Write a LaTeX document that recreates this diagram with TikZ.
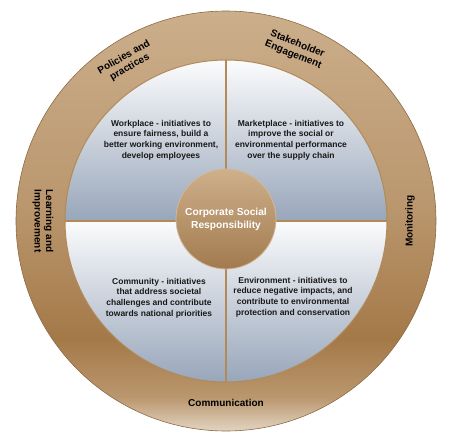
\documentclass[tikz,border=0pt]{standalone}
\usepackage{fontspec}
\setmainfont{Liberation Sans}
\usetikzlibrary{positioning}
\definecolor{ringtop}{RGB}{203,174,139}
\definecolor{ringmid}{RGB}{186,151,110}
\definecolor{ringdark}{RGB}{164,121,72}
\definecolor{ringbot}{RGB}{226,212,194}
\definecolor{quadgrey}{RGB}{152,166,186}
\definecolor{goldline}{RGB}{178,138,88}
\definecolor{rimbrown}{RGB}{140,106,68}
\definecolor{coretop}{RGB}{206,176,139}
\definecolor{corebot}{RGB}{162,122,78}
\pgfdeclareverticalshading{ringshade}{100bp}{color(0bp)=(ringbot); color(25bp)=(ringbot); color(29bp)=(ringmid); color(36bp)=(ringdark); color(52bp)=(ringmid); color(75bp)=(ringtop); color(100bp)=(ringtop)}

\begin{document}
\begin{tikzpicture}[x=1pt,y=1pt,
    quad/.style={top color=white!96!quadgrey,bottom color=quadgrey,draw=goldline,line width=1pt},
    quadtext/.style={align=center,font=\fontsize{8.5}{10.7}\selectfont\bfseries,text=black!90},
    ringtext/.style={align=center,font=\fontsize{10}{11.5}\selectfont\bfseries,text=black},
    coretext/.style={align=center,font=\fontsize{10.2}{13}\selectfont\bfseries,text=white}]
    \useasboundingbox (-226,-224) rectangle (224,221);

    % Outer ring
    \path[shading=ringshade,even odd rule] (0,0) circle (210) (0,0) circle (161);
    \draw[rimbrown,line width=0.6pt] (0,0) circle (210);

    % Quadrants
    \draw[quad] (0,0) -- (90:161) arc (90:180:161) -- cycle;
    \draw[quad] (0,0) -- (0:161) arc (0:90:161) -- cycle;
    \draw[quad] (0,0) -- (180:161) arc (180:270:161) -- cycle;
    \draw[quad] (0,0) -- (270:161) arc (270:360:161) -- cycle;
    \draw[goldline,line width=2.5pt] (0,161) -- (0,-161);
    \draw[goldline,line width=2.5pt] (-161,0) -- (161,0);

    % Centre
    \node[circle,minimum size=100pt,top color=coretop,bottom color=corebot,draw=goldline!60!white,line width=0.8pt,coretext] (csr) at (0,2) {Corporate Social\\Responsibility};

    % Quadrant texts
    \node[quadtext] (workplace) at (-65,81) {Workplace - initiatives to\\ensure fairness, build a\\better working environment,\\develop employees};
    \node[quadtext] (marketplace) at (65,81) {Marketplace - initiatives to\\improve the social or\\environmental performance\\over the supply chain};
    \node[quadtext] (community) at (-67,-77) {Community - initiatives\\that address societal\\challenges and contribute\\towards national priorities};
    \node[quadtext] (environment) at (67,-76) {Environment - initiatives to\\reduce negative impacts, and\\contribute to environmental\\protection and conservation};

    % Ring labels
    \node[ringtext,rotate=30] (policies) at (122:187) {Policies and\\practices};
    \node[ringtext,rotate=-22] (stakeholder) at (68:185) {Stakeholder\\Engagement};
    \node[ringtext,rotate=-90] (learning) at (180:183) {Learning and\\Improvement};
    \node[ringtext,rotate=90] (monitoring) at (0:184) {Monitoring};
    \node[ringtext] (communication) at (270:182) {Communication};
\end{tikzpicture}
\end{document}
